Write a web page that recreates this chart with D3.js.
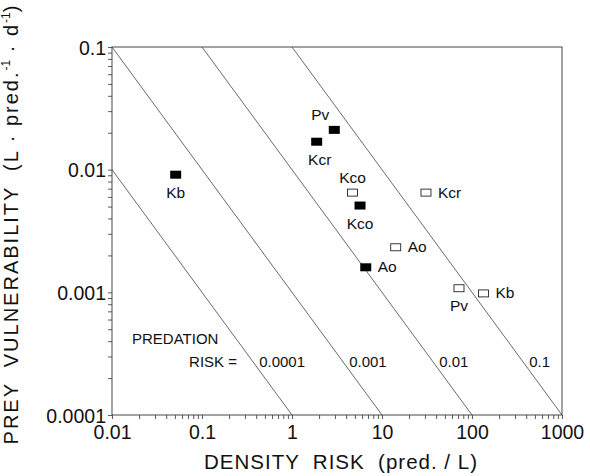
<!DOCTYPE html>
<html>
<head>
<meta charset="utf-8">
<script src="https://cdn.jsdelivr.net/npm/d3@7"></script>
<style>
  body { margin: 0; background: #fff; }
  text { font-family: "Liberation Sans", Arial, sans-serif; fill: #111; }
</style>
</head>
<body>
<div id="graph"></div>
<script>
// data
var filledNames = ["Kb", "Pv", "Kcr", "Kco", "Ao"];
var filledDensity = [0.051, 2.95, 1.88, 5.7, 6.6];
var filledVuln = [0.0091, 0.0211, 0.0169, 0.0051, 0.0016];

var openNames = ["Kco", "Kcr", "Ao", "Pv", "Kb"];
var openDensity = [4.7, 30.8, 14.2, 71.7, 134];
var openVuln = [0.0065, 0.0065, 0.00233, 0.00108, 0.00098];

var riskLevels = [0.0001, 0.001, 0.01, 0.1];
var riskLabels = ["0.0001", "0.001", "0.01", "0.1"];

var xTicks = [0.01, 0.1, 1, 10, 100, 1000];
var xTickLabels = ["0.01", "0.1", "1", "10", "100", "1000"];
var yTicks = [0.0001, 0.001, 0.01, 0.1];
var yTickLabels = ["0.0001", "0.001", "0.01", "0.1"];

// label placement (where the text sits relative to its square)
var filledPos = ["below", "aboveLeft", "belowLeft", "below", "right"];
var openPos = ["above", "right", "right", "below", "right"];

//measurements
var width = 590;
var height = 476;
var margin = { top: 47, right: 28, bottom: 61, left: 112 };
var chartWidth = width - margin.left - margin.right;
var chartHeight = height - margin.top - margin.bottom;

var svg = d3.select("#graph").append("svg")
    .attr("width", width)
    .attr("height", height);

var x = d3.scaleLog().domain([0.01, 1000]).range([0, chartWidth]);
var y = d3.scaleLog().domain([0.0001, 0.1]).range([chartHeight, 0]);

var plot = svg.append("g")
    .attr("transform", "translate(" + margin.left + "," + margin.top + ")");

// minor ticks
var xMinor = [];
var yMinor = [];
xTicks.forEach(function (t, i) {
    if (i < xTicks.length - 1) for (var k = 2; k < 10; k++) xMinor.push(t * k);
});
yTicks.forEach(function (t, i) {
    if (i < yTicks.length - 1) for (var k = 2; k < 10; k++) yMinor.push(t * k);
});

var xAxis = d3.axisBottom(x).tickValues(xTicks.concat(xMinor))
    .tickSize(4).tickPadding(6)
    .tickFormat(function (d) {
        var i = xTicks.indexOf(d);
        return i >= 0 ? xTickLabels[i] : "";
    });
var yAxis = d3.axisLeft(y).tickValues(yTicks.concat(yMinor))
    .tickSize(4).tickPadding(2)
    .tickFormat(function (d) {
        var i = yTicks.indexOf(d);
        return i >= 0 ? yTickLabels[i] : "";
    });

var gx = plot.append("g")
    .attr("transform", "translate(0," + chartHeight + ")")
    .call(xAxis);
var gy = plot.append("g").call(yAxis);

[gx, gy].forEach(function (g) {
    g.select(".domain").remove();
    g.selectAll("line").attr("stroke", "#333").attr("stroke-width", 0.8);
    g.selectAll("text")
        .style("font-size", "19.5px")
        .attr("font-family", "Liberation Sans, Arial, sans-serif")
        .attr("fill", "#111");
});
gy.selectAll("text").attr("dy", "0.36em");
gx.selectAll("text").attr("dy", "0.72em");

// frame
plot.append("rect")
    .attr("width", chartWidth)
    .attr("height", chartHeight)
    .attr("fill", "none")
    .attr("stroke", "#333")
    .attr("stroke-width", 0.9);

// iso-risk lines: vulnerability = risk / density
plot.append("clipPath").attr("id", "clip")
    .append("rect").attr("width", chartWidth).attr("height", chartHeight);

plot.append("g").attr("clip-path", "url(#clip)")
    .selectAll(".risk")
    .data(riskLevels)
    .enter().append("line")
      .attr("class", "risk")
      .attr("x1", function (r) { return x(r / 0.1); })
      .attr("y1", function (r) { return y(0.1); })
      .attr("x2", function (r) { return x(r / 0.0001); })
      .attr("y2", function (r) { return y(0.0001); })
      .attr("stroke", "#444")
      .attr("stroke-width", 0.8);

// risk labels sit just right of each line
plot.selectAll(".risklab")
    .data(riskLevels)
    .enter().append("text")
      .attr("class", "risklab")
      .attr("x", function (r) { return x(r / 0.00027) + 6; })
      .attr("y", y(0.00027) + 5)
      .style("font-size", "15px")
      .text(function (r, i) { return riskLabels[i]; });

plot.append("text")
    .attr("x", 20).attr("y", y(0.00042) + 5)
    .style("font-size", "15px")
    .text("PREDATION");
plot.append("text")
    .attr("x", 125).attr("y", y(0.00027) + 5)
    .attr("text-anchor", "end")
    .style("font-size", "15px")
    .text("RISK =");

// squares
function drawSquares(names, dens, vuln, pos, filled) {
    var pts = names.map(function (n, i) {
        return { name: n, d: dens[i], v: vuln[i], pos: pos[i] };
    });
    var w = filled ? 11 : 10, h = filled ? 8 : 7;
    plot.selectAll(filled ? ".fsq" : ".osq")
        .data(pts)
        .enter().append("rect")
          .attr("x", function (p) { return x(p.d) - w / 2; })
          .attr("y", function (p) { return y(p.v) - h / 2; })
          .attr("width", w)
          .attr("height", h)
          .attr("fill", filled ? "#000" : "#fff")
          .attr("stroke", filled ? "none" : "#222")
          .attr("stroke-width", 0.9);

    plot.selectAll(filled ? ".flab" : ".olab")
        .data(pts)
        .enter().append("text")
          .style("font-size", "15.5px")
          .attr("x", function (p) {
              var cx = x(p.d);
              if (p.pos === "right") return cx + 12;
              if (p.pos === "aboveLeft") return cx - 14;
              if (p.pos === "belowLeft") return cx + 3;
              return cx;
          })
          .attr("y", function (p) {
              var cy = y(p.v);
              if (p.pos === "right") return cy + 5;
              if (p.pos === "above") return cy - 10;
              if (p.pos === "aboveLeft") return cy - 10;
              return cy + 23;
          })
          .attr("text-anchor", function (p) {
              if (p.pos === "right") return "start";
              return "middle";
          })
          .text(function (p) { return p.name; });
}
drawSquares(filledNames, filledDensity, filledVuln, filledPos, true);
drawSquares(openNames, openDensity, openVuln, openPos, false);

// axis titles
svg.append("text")
    .attr("x", margin.left + chartWidth / 2 + 4)
    .attr("y", 469)
    .attr("text-anchor", "middle")
    .style("font-size", "20.5px")
    .style("letter-spacing", "1px")
    .style("white-space", "pre")
    .text("DENSITY  RISK  (pred. / L)");

var yt = svg.append("text")
    .attr("text-anchor", "middle")
    .attr("transform", "translate(18," + 224 + ") rotate(-90)")
    .style("font-size", "20px")
    .style("letter-spacing", "2px")
    .style("white-space", "pre");
yt.append("tspan").text("PREY  VULNERABILITY  (L · pred.");
yt.append("tspan").attr("dy", -8).style("font-size", "12px").style("letter-spacing", "0px").text("-1");
yt.append("tspan").attr("dy", 8).text(" · d");
yt.append("tspan").attr("dy", -8).style("font-size", "12px").style("letter-spacing", "0px").text("-1");
yt.append("tspan").attr("dy", 8).text(")");
</script>
</body>
</html>
